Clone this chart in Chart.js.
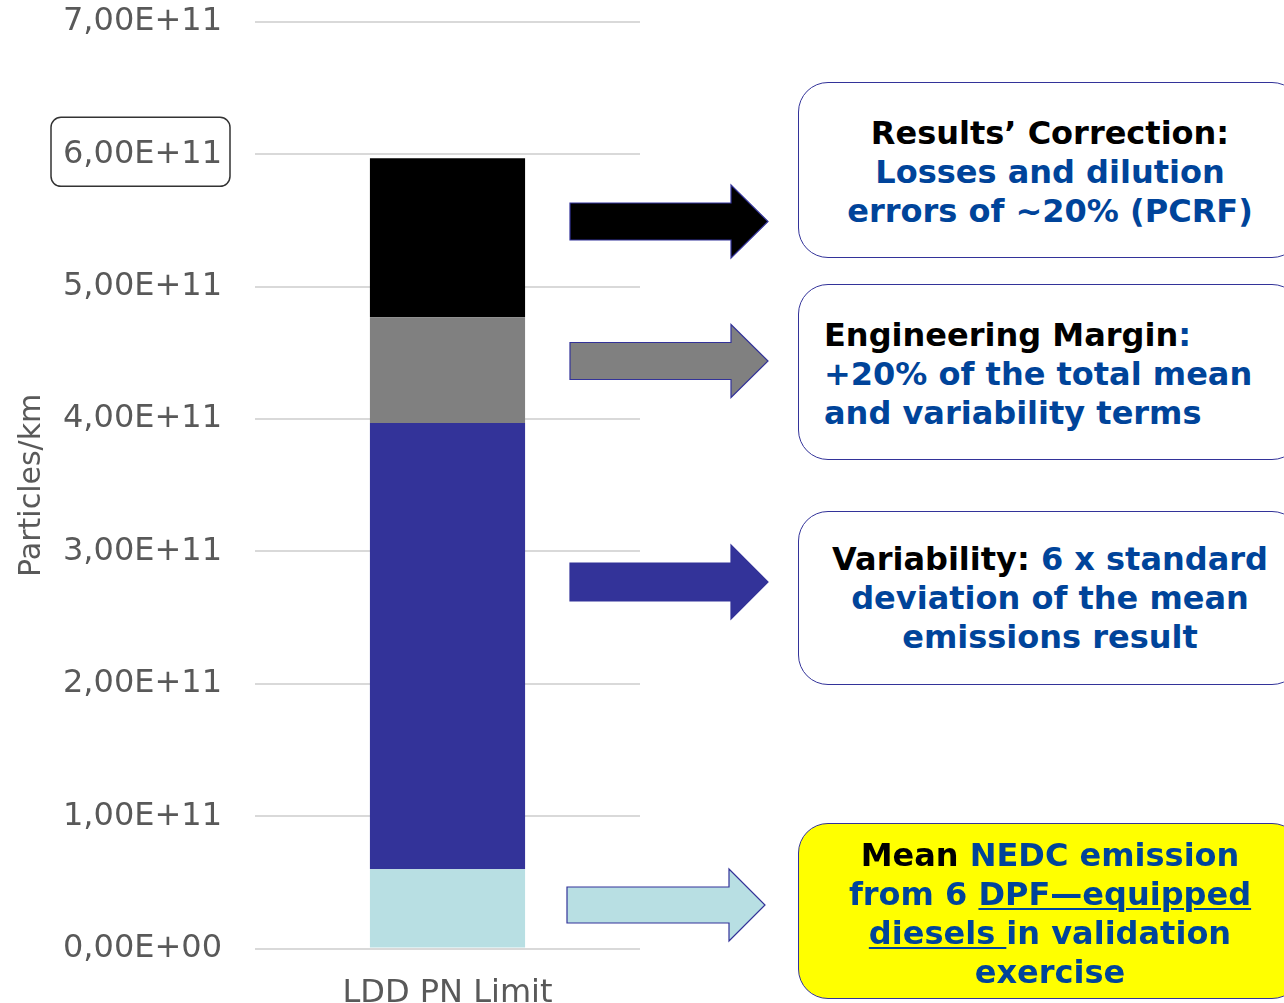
<!DOCTYPE html>
<html>
<head>
<meta charset="utf-8">
<script src="https://cdn.jsdelivr.net/npm/chart.js@4.4.0/dist/chart.umd.min.js"></script>
<style>
    html, body { margin: 0; padding: 0; background: #fff; overflow: hidden; }
    #wrap { position: relative; width: 1284px; height: 1003px; }
    #chart { position: absolute; left: 0; top: 0; }
    .note {
        position: absolute;
        left: 798px;
        width: 504px;
        box-sizing: border-box;
        border: 1.5px solid #333399;
        border-radius: 30px;
        background: #fff;
        display: flex;
        flex-direction: column;
        justify-content: center;
        font-family: "DejaVu Sans", Verdana, sans-serif;
        font-weight: bold;
        font-size: 32px;
        line-height: 39px;
        color: #00449a;
        text-align: center;
        white-space: nowrap;
    }
    .note .k { color: #000; }
    .note.left { text-align: left; padding-left: 25px; }
    .note.yellow { background: #ffff00; }
    .note u { text-decoration-thickness: 2px; text-underline-offset: 3px; }
</style>
</head>
<body>
<div id="wrap">
    <canvas id="chart" width="1284" height="1003"></canvas>

    <div class="note" style="top:82px;height:176px;padding-top:4px;">
        <div><span class="k">Results’ Correction:</span></div>
        <div>Losses and dilution</div>
        <div>errors of ~20% (PCRF)</div>
    </div>
    <div class="note left" style="top:284px;height:176px;padding-top:4px;">
        <div><span class="k">Engineering Margin</span>:</div>
        <div>+20% of the total mean</div>
        <div>and variability terms</div>
    </div>
    <div class="note" style="top:511px;height:174px;">
        <div><span class="k">Variability:</span> 6 x standard</div>
        <div>deviation of the mean</div>
        <div>emissions result</div>
    </div>
    <div class="note yellow" style="top:823px;height:176px;padding-top:6px;">
        <div><span class="k">Mean</span> NEDC emission</div>
        <div>from 6 <u>DPF—equipped</u></div>
        <div><u>diesels </u>in validation</div>
        <div>exercise</div>
    </div>
</div>

<script>
// ===== Data =====
const categories = ['LDD PN Limit'];
const seriesNames = ['Mean', 'Variability', 'Engineering Margin', 'Results Correction'];
const meanValues = [0.6e11];
const variabilityValues = [3.37e11];
const marginValues = [0.8e11];
const correctionValues = [1.2e11];
const seriesColors = ['#b8dfe3', '#333399', '#808080', '#000000'];
const yTickMax = 7e11;
const yTickStep = 1e11;
const highlightedTick = 6e11;

const FONT = '"DejaVu Sans", Verdana, sans-serif';
const TEXT_GREY = '#595959';

// format like 6,00E+11
function sciComma(v) {
    if (v === 0) return '0,00E+00';
    const exp = Math.floor(Math.log10(Math.abs(v)));
    const mant = v / Math.pow(10, exp);
    const sign = exp < 0 ? '-' : '+';
    return mant.toFixed(2).replace('.', ',') + 'E' + sign + String(Math.abs(exp)).padStart(2, '0');
}

// arrows pointing from the bar to the notes (pixel positions of the annotation layer)
const arrows = [
    { x0: 570, x1: 768, head: 731, cy: 221.5, shaft: 37, headH: 73, fill: '#000000' },
    { x0: 570, x1: 768, head: 731, cy: 361, shaft: 37, headH: 73, fill: '#808080' },
    { x0: 570, x1: 768, head: 731, cy: 582, shaft: 38, headH: 74, fill: '#333399' },
    { x0: 567, x1: 765, head: 729, cy: 905, shaft: 36, headH: 72, fill: '#b8dfe3' }
];

const annotationPlugin = {
    id: 'annotations',
    afterDraw(chart) {
        const ctx = chart.ctx;
        ctx.save();
        arrows.forEach(a => {
            ctx.beginPath();
            ctx.moveTo(a.x0, a.cy - a.shaft / 2);
            ctx.lineTo(a.head, a.cy - a.shaft / 2);
            ctx.lineTo(a.head, a.cy - a.headH / 2);
            ctx.lineTo(a.x1, a.cy);
            ctx.lineTo(a.head, a.cy + a.headH / 2);
            ctx.lineTo(a.head, a.cy + a.shaft / 2);
            ctx.lineTo(a.x0, a.cy + a.shaft / 2);
            ctx.closePath();
            ctx.fillStyle = a.fill;
            ctx.fill();
            ctx.lineWidth = 1.2;
            ctx.strokeStyle = '#333399';
            ctx.stroke();
        });

        // rounded box around the 6,00E+11 tick label
        const y = chart.scales.y.getPixelForValue(highlightedTick);
        const bx = 51, bw = 179, by = y - 37, bh = 69, r = 10;
        ctx.beginPath();
        ctx.roundRect(bx, by, bw, bh, r);
        ctx.lineWidth = 1.5;
        ctx.strokeStyle = '#333333';
        ctx.stroke();
        ctx.restore();
    }
};

const ctx = document.getElementById('chart').getContext('2d');
new Chart(ctx, {
    type: 'bar',
    data: {
        labels: categories,
        datasets: [
            { label: seriesNames[0], data: meanValues, backgroundColor: seriesColors[0] },
            { label: seriesNames[1], data: variabilityValues, backgroundColor: seriesColors[1] },
            { label: seriesNames[2], data: marginValues, backgroundColor: seriesColors[2] },
            { label: seriesNames[3], data: correctionValues, backgroundColor: seriesColors[3] }
        ]
    },
    options: {
        responsive: false,
        animation: false,
        layout: { padding: { top: 22, right: 644, bottom: -28, left: 14 } },
        datasets: { bar: { barPercentage: 0.403, categoryPercentage: 1.0 } },
        plugins: {
            legend: { display: false },
            tooltip: { enabled: false }
        },
        scales: {
            x: {
                stacked: true,
                grid: { display: false },
                border: { display: false },
                ticks: {
                    color: TEXT_GREY,
                    font: { family: FONT, size: 32 },
                    padding: 18
                }
            },
            y: {
                stacked: true,
                min: 0,
                max: yTickMax,
                border: { display: false },
                grid: { color: '#d9d9d9', lineWidth: 2, drawTicks: false },
                afterFit(scale) {
                    // tighten the axis like the original slide
                    scale.paddingTop = 0;
                    scale.width -= 36;
                },
                ticks: {
                    stepSize: yTickStep,
                    color: TEXT_GREY,
                    padding: 33,
                    font: { family: FONT, size: 32 },
                    callback: v => sciComma(v)
                },
                title: {
                    display: true,
                    text: 'Particles/km',
                    color: TEXT_GREY,
                    font: { family: FONT, size: 30 },
                    padding: { top: 0, bottom: 16 }
                }
            }
        }
    },
    plugins: [annotationPlugin]
});
</script>
</body>
</html>
